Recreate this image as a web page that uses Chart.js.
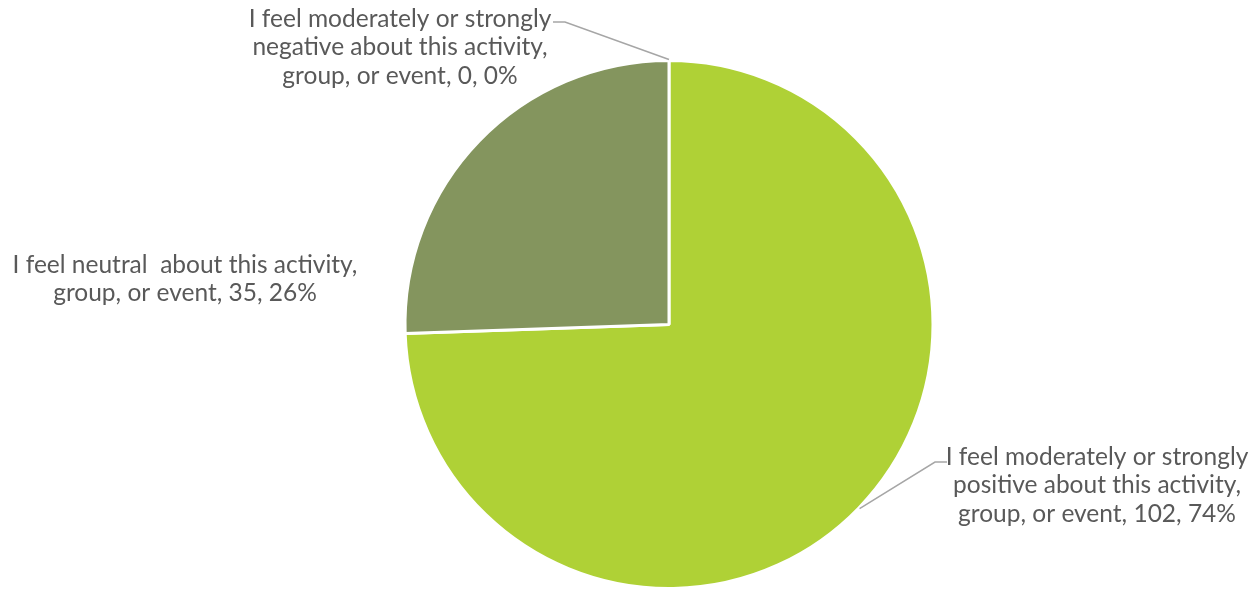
<!DOCTYPE html>
<html>
<head>
<meta charset="utf-8">
<script src="https://cdn.jsdelivr.net/npm/chart.js@4"></script>
<style>
  html, body { margin: 0; padding: 0; background: #fff; }
  #wrap { width: 1253px; height: 590px; }
</style>
</head>
<body>
<div id="wrap"><canvas id="pizza" width="1253" height="590"></canvas></div>
<script>
// dados do grafico
var categorias = [
  "I feel moderately or strongly positive about this activity, group, or event",
  "I feel neutral  about this activity, group, or event",
  "I feel moderately or strongly negative about this activity, group, or event"
];
var valores = [102, 35, 0];
var porcentagens = ["74%", "26%", "0%"];
var cores = ["#AFD136", "#84955E", "#5F6B3C"];

// linhas de texto de cada rotulo
var rotulos = [
  ["I feel moderately or strongly", "positive about this activity,", "group, or event, " + valores[0] + ", " + porcentagens[0]],
  ["I feel neutral  about this activity,", "group, or event, " + valores[1] + ", " + porcentagens[1]],
  ["I feel moderately or strongly", "negative about this activity,", "group, or event, " + valores[2] + ", " + porcentagens[2]]
];
// onde fica o texto (centro x, primeira linha y) e o ponto da linha guia
var posRotulo = [
  { x: 1097, y: 457, guia: { x: 947, y: 462 }, cotovelo: { x: 935, y: 462 } },
  { x: 185, y: 265, guia: null },
  { x: 400, y: 19, guia: { x: 553, y: 22 }, cotovelo: { x: 565, y: 22 } }
];

var pluginRotulos = {
  id: 'rotulos',
  afterDraw: function(chart) {
    var ctx = chart.ctx;
    var arcos = chart.getDatasetMeta(0).data;
    ctx.save();
    ctx.font = '24.5px Lato, "Open Sans", sans-serif';
    ctx.fillStyle = '#595959';
    ctx.textAlign = 'center';
    ctx.textBaseline = 'middle';
    for (var i = 0; i < rotulos.length; i++) {
      var p = posRotulo[i];
      for (var j = 0; j < rotulos[i].length; j++) {
        ctx.fillText(rotulos[i][j], p.x, p.y + j * 28.5);
      }
      if (p.guia) {
        var a = arcos[i];
        var meio = (a.startAngle + a.endAngle) / 2;
        var r = a.outerRadius + 1;
        ctx.strokeStyle = '#A6A6A6';
        ctx.lineWidth = 1.5;
        ctx.beginPath();
        ctx.moveTo(p.guia.x, p.guia.y);
        ctx.lineTo(p.cotovelo.x, p.cotovelo.y);
        ctx.lineTo(a.x + Math.cos(meio) * r, a.y + Math.sin(meio) * r);
        ctx.stroke();
      }
    }
    ctx.restore();
  }
};

var graf = document.getElementById("pizza").getContext("2d");

var pizza = new Chart(graf, {
  type: 'pie',
  data: {
    labels: categorias,
    datasets: [{
      data: valores,
      backgroundColor: cores,
      borderColor: '#ffffff',
      borderWidth: 3
    }]
  },
  options: {
    responsive: false,
    animation: false,
    layout: { padding: { left: 403, right: 318, top: 59, bottom: -1 } },
    plugins: {
      legend: { display: false },
      tooltip: { enabled: false }
    }
  },
  plugins: [pluginRotulos]
});
</script>
</body>
</html>
